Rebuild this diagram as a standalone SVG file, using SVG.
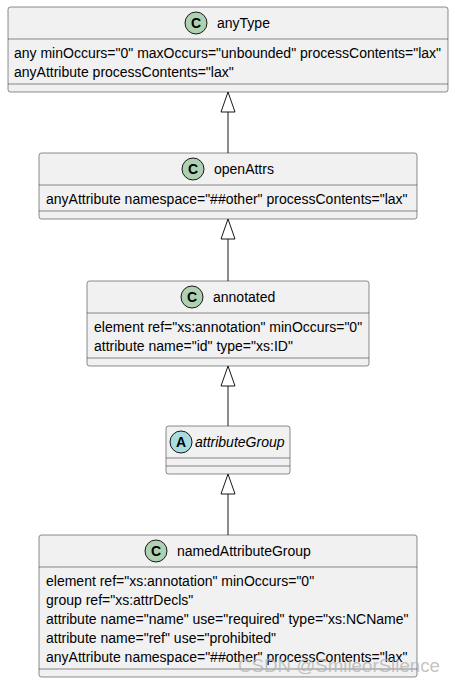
<svg xmlns="http://www.w3.org/2000/svg" width="455" height="683" viewBox="0 0 455 683">
<style>
.box{fill:#F1F1F1;stroke:#181818;stroke-width:0.5}
.sep{stroke:#181818;stroke-width:0.5}
.ci{fill:#ADD1B2;stroke:#181818;stroke-width:1}
.ca{fill:#A9DCDF;stroke:#181818;stroke-width:1}
.lt{font-family:"Liberation Sans",Arial,sans-serif;font-size:14px;font-weight:bold;fill:#000;text-anchor:middle}
.t{font-family:"Liberation Sans",Arial,sans-serif;font-size:14px;fill:#000}
.it{font-style:italic}
.edge{stroke:#181818;stroke-width:1;fill:none}
.head{fill:none;stroke:#181818;stroke-width:1}
.wm{font-family:"Liberation Sans",Arial,sans-serif;font-size:18px;fill:#b4b4b4;fill-opacity:0.8}
</style>
<rect width="455" height="683" fill="#FFFFFF"/>
<g id="connectors">
<line class="edge" x1="228" y1="153" x2="228" y2="112"/>
<polygon class="head" points="228,92 221,112 235,112"/>
<line class="edge" x1="228" y1="281" x2="228" y2="239"/>
<polygon class="head" points="228,219 221,239 235,239"/>
<line class="edge" x1="228" y1="426" x2="228" y2="386"/>
<polygon class="head" points="228,366 221,386 235,386"/>
<line class="edge" x1="228" y1="535" x2="228" y2="494"/>
<polygon class="head" points="228,474 221,494 235,494"/>
</g>
<g id="anyType">
<rect class="box" x="8" y="7" width="440" height="85" rx="2.5" ry="2.5"/>
<circle class="ci" cx="196" cy="23" r="11"/>
<text class="lt" x="196" y="28">C</text>
<text class="t" x="217" y="28">anyType</text>
<line class="sep" x1="8" y1="39" x2="448" y2="39"/>
<text class="t" x="14" y="58">any minOccurs="0" maxOccurs="unbounded" processContents="lax"</text>
<text class="t" x="14" y="77">anyAttribute processContents="lax"</text>
<line class="sep" x1="8" y1="84" x2="448" y2="84"/>
</g>
<g id="openAttrs">
<rect class="box" x="39" y="153" width="378" height="66" rx="2.5" ry="2.5"/>
<circle class="ci" cx="193" cy="169" r="11"/>
<text class="lt" x="193" y="174">C</text>
<text class="t" x="214" y="174">openAttrs</text>
<line class="sep" x1="39" y1="185" x2="417" y2="185"/>
<text class="t" x="46" y="204">anyAttribute namespace="##other" processContents="lax"</text>
<line class="sep" x1="39" y1="211" x2="417" y2="211"/>
</g>
<g id="annotated">
<rect class="box" x="87" y="281" width="282" height="85" rx="2.5" ry="2.5"/>
<circle class="ci" cx="192" cy="297" r="11"/>
<text class="lt" x="192" y="302">C</text>
<text class="t" x="213" y="302">annotated</text>
<line class="sep" x1="87" y1="313" x2="369" y2="313"/>
<text class="t" x="94" y="332">element ref="xs:annotation" minOccurs="0"</text>
<text class="t" x="94" y="351">attribute name="id" type="xs:ID"</text>
<line class="sep" x1="87" y1="358" x2="369" y2="358"/>
</g>
<g id="attributeGroup">
<rect class="box" x="166" y="426" width="124" height="48" rx="2.5" ry="2.5"/>
<circle class="ca" cx="181" cy="442" r="11"/>
<text class="lt" x="181" y="447">A</text>
<text class="t it" x="195" y="447">attributeGroup</text>
<line class="sep" x1="166" y1="458" x2="290" y2="458"/>
<line class="sep" x1="166" y1="466" x2="290" y2="466"/>
</g>
<g id="namedAttributeGroup">
<rect class="box" x="39" y="535" width="378" height="142" rx="2.5" ry="2.5"/>
<circle class="ci" cx="156" cy="551" r="11"/>
<text class="lt" x="156" y="556">C</text>
<text class="t" x="177" y="556">namedAttributeGroup</text>
<line class="sep" x1="39" y1="567" x2="417" y2="567"/>
<text class="t" x="46" y="586">element ref="xs:annotation" minOccurs="0"</text>
<text class="t" x="46" y="605">group ref="xs:attrDecls"</text>
<text class="t" x="46" y="624">attribute name="name" use="required" type="xs:NCName"</text>
<text class="t" x="46" y="643">attribute name="ref" use="prohibited"</text>
<text class="t" x="46" y="662">anyAttribute namespace="##other" processContents="lax"</text>
<line class="sep" x1="39" y1="669" x2="417" y2="669"/>
</g>
<text class="wm" x="238" y="672" textLength="202" lengthAdjust="spacingAndGlyphs">CSDN @SmileorSilence</text>
</svg>
